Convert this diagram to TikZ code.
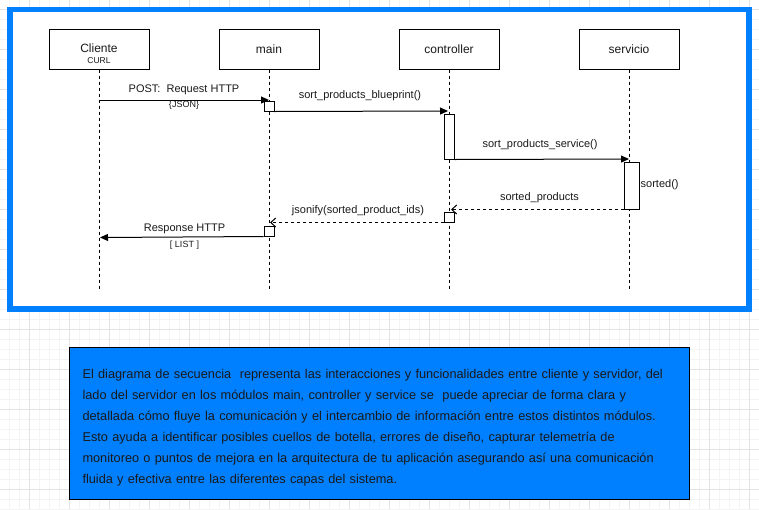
\documentclass[tikz,border=0pt]{standalone}
\usepackage{fontspec}
\setmainfont{Liberation Sans}
\usetikzlibrary{arrows.meta}
\definecolor{frameblue}{HTML}{007FFF}
\definecolor{gridminor}{HTML}{F4F4F4}
\definecolor{gridmajor}{HTML}{E3E3E3}
\definecolor{ink}{HTML}{1A1A1A}
\begin{document}
\begin{tikzpicture}[x=1pt,y=-1pt,
 lifebox/.style={draw=black,line width=1pt,fill=white,minimum width=100pt,minimum height=40pt,inner sep=0pt,font=\fontsize{12}{14}\selectfont,text=ink},
 actbox/.style={draw=black,line width=1pt,fill=white,inner sep=0pt},
 lifeline/.style={draw=black,line width=1pt,dash pattern=on 3pt off 3pt},
 callmsg/.style={draw=black,line width=1pt,-{Triangle[length=8pt,width=7pt]}},
 retmsg/.style={draw=black,line width=1pt,dash pattern=on 3pt off 3pt,-{Straight Barb[length=5pt,width=9pt]}},
 msglabel/.style={font=\fontsize{11}{13}\selectfont,text=ink,inner sep=0pt},
 smalllabel/.style={font=\fontsize{9}{11}\selectfont,text=ink,inner sep=0pt},
 minorline/.style={draw=gridminor,line width=0.8pt},
 majorline/.style={draw=gridmajor,line width=1pt},
]
\useasboundingbox (0,0) rectangle (759,509);
\fill[white] (0,0) rectangle (759,509);
% grid
\foreach \x in {9,19,...,759} \draw[minorline] (\x,0) -- (\x,509);
\foreach \y in {9,19,...,509} \draw[minorline] (0,\y) -- (759,\y);
\foreach \x in {29,69,...,759} \draw[majorline] (\x,0) -- (\x,509);
\foreach \y in {9,49,...,509} \draw[majorline] (0,\y) -- (759,\y);
% frame
\draw[draw=frameblue,line width=5.5pt,fill=white] (10,9.5) rectangle (749,309);
% participants
\node[lifebox] (cl) at (99,49) {};
\node[inner sep=0pt,font=\fontsize{12}{14}\selectfont,text=ink] (cltxt) at (99,48.5) {Cliente};
\node[inner sep=0pt,font=\fontsize{8.5}{10}\selectfont,text=ink] (curl) at (99,60.5) {CURL};
\node[lifebox] (mn) at (269,49) {main};
\node[lifebox] (ct) at (449,49) {controller};
\node[lifebox] (sv) at (629,49) {servicio};
% lifeline ends
\coordinate (cle) at (99,289);
\coordinate (mne) at (269,289);
\coordinate (cte) at (449,289);
\coordinate (sve) at (629,289);
\draw[lifeline] (cl.south) -- (cle);
\draw[lifeline] (mn.south) -- (mne);
\draw[lifeline] (ct.south) -- (cte);
\draw[lifeline] (sv.south) -- (sve);
% activation boxes
\node[actbox,minimum width=10pt,minimum height=10pt] (a1) at (269,106) {};
\node[actbox,minimum width=10pt,minimum height=45pt] (a2) at (449,136.5) {};
\node[actbox,minimum width=15pt,minimum height=47pt] (a3) at (631.5,185.5) {};
\node[actbox,minimum width=10pt,minimum height=10pt] (a4) at (449,217) {};
\node[actbox,minimum width=10pt,minimum height=10pt] (a5) at (269,231) {};
% message endpoints
\coordinate (s1) at (99,100);
\coordinate (t1) at (269,100);
\coordinate (t2) at (448,111);
\coordinate (t3) at (629,159);
\coordinate (t4) at (451,209.5);
\coordinate (t5) at (270,222.5);
\coordinate (t6) at (100,237.5);
% messages
\draw[callmsg] (s1) -- (t1);
\draw[callmsg] (a1.south east) -- (t2);
\draw[callmsg] (a2.south east) -- (t3);
\draw[retmsg] (a3.south west) -- (t4);
\draw[retmsg] (a4.south west) -- (t5);
\draw[callmsg] (a5.south west) -- (t6);
% labels
\node[msglabel] (l1) at (184,90) {POST:~ Request HTTP};
\node[smalllabel] (l1b) at (184,105) {\{JSON\}};
\node[msglabel] (l2) at (360,96) {sort\_products\_blueprint()};
\node[msglabel] (l3) at (540,144.5) {sort\_products\_service()};
\node[msglabel,anchor=west] (l3b) at (640.5,185) {sorted()};
\node[msglabel] (l4) at (539.5,197.5) {sorted\_products};
\node[msglabel] (l5) at (358,210.5) {jsonify(sorted\_product\_ids)};
\node[msglabel] (l6) at (184.5,228.5) {Response HTTP};
\node[smalllabel] (l6b) at (184.5,245) {[ LIST ]};
% description
\node[draw=black,line width=1pt,fill=frameblue,anchor=north west,minimum width=620pt,minimum height=152pt,text width=594pt,inner xsep=13pt,inner ysep=0pt,align=left,font=\fontsize{12.75}{21}\selectfont,text=ink] (desc) at (69,347) {\rule{0pt}{17pt}El diagrama de secuencia~ representa las interacciones y funcionalidades entre cliente y servidor, del\\
lado del servidor en los módulos main, controller y service se~ puede apreciar de forma clara y\\
detallada cómo fluye la comunicación y el intercambio de información entre estos distintos módulos.\\
Esto ayuda a identificar posibles cuellos de botella, errores de diseño, capturar telemetría de\\
monitoreo o puntos de mejora en la arquitectura de tu aplicación asegurando así una comunicación\\
fluida y efectiva entre las diferentes capas del sistema.};
\end{tikzpicture}
\end{document}
